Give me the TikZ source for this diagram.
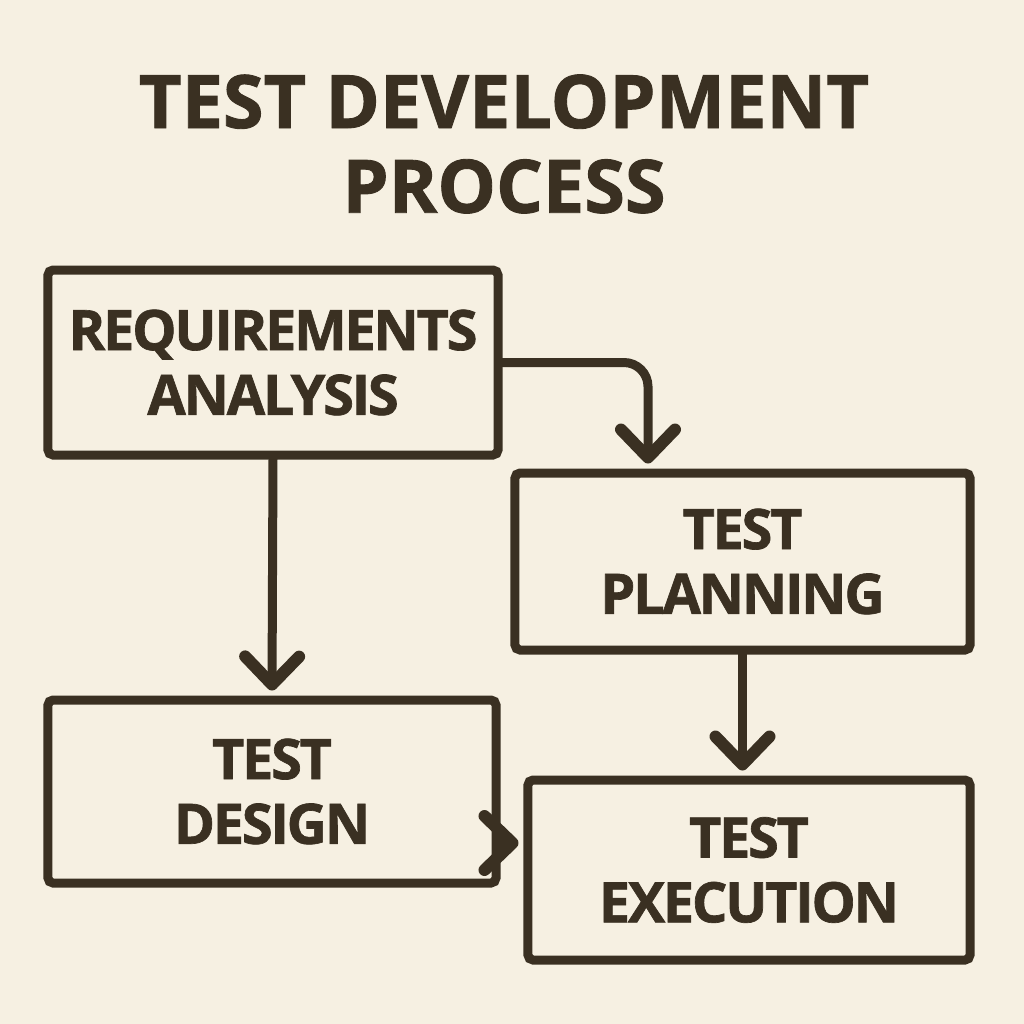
\documentclass[tikz,border=0pt]{standalone}
\usepackage{fontspec}
\setmainfont{Open Sans}[BoldFeatures={FakeBold=1.2}]
\newfontfamily\boxfont{Open Sans}[BoldFeatures={FakeBold=1.2,LetterSpace=-4}]
\usetikzlibrary{arrows.meta}
\definecolor{paper}{HTML}{F6F0E2}
\definecolor{ink}{HTML}{3A3022}
\tikzset{
  px/.style={x=0.5bp,y=-0.5bp},
  box/.style={draw=ink, line width=4.5bp, rounded corners=2.5bp, align=center, text=ink,
    font=\boxfont\bfseries\fontsize{28}{32.5}\selectfont, inner sep=0pt},
  flow/.style={draw=ink, line width=4.5bp, line cap=round,
    -{Straight Barb[length=14bp,width=27bp,line width=6bp,round]}},
}
\begin{document}
\begin{tikzpicture}[px]
\fill[paper] (0,0) rectangle (1024,1024);
\useasboundingbox (0,0) rectangle (1024,1024);
\node[text=ink, align=center, font=\bfseries\fontsize{37}{42.5}\selectfont] (title) at (504,144) {TEST DEVELOPMENT\\PROCESS};
\node[box, minimum width=225bp, minimum height=92.5bp] (ra) at (273,362.5) {REQUIREMENTS\\ANALYSIS};
\node[box, minimum width=227.5bp, minimum height=88.5bp] (tp) at (742.5,561.5) {TEST\\PLANNING};
\node[box, minimum width=224bp, minimum height=91.5bp] (td) at (272,791.5) {TEST\\DESIGN};
\node[box, minimum width=221bp, minimum height=90bp] (te) at (749,870) {TEST\\EXECUTION};
\coordinate (c1) at (648,473);
\draw[flow, rounded corners=12bp] (ra.east) -| ([yshift=2.5bp]c1 |- tp.north);
\draw[flow] (ra.south) -- ([yshift=2.5bp]td.north);
\draw[flow] (tp.south) -- ([yshift=2.5bp]tp.south |- te.north);
\draw[flow] (td.east |- 0,843) -- ([xshift=-2.5bp]te.west |- 0,843);
\end{tikzpicture}
\end{document}
